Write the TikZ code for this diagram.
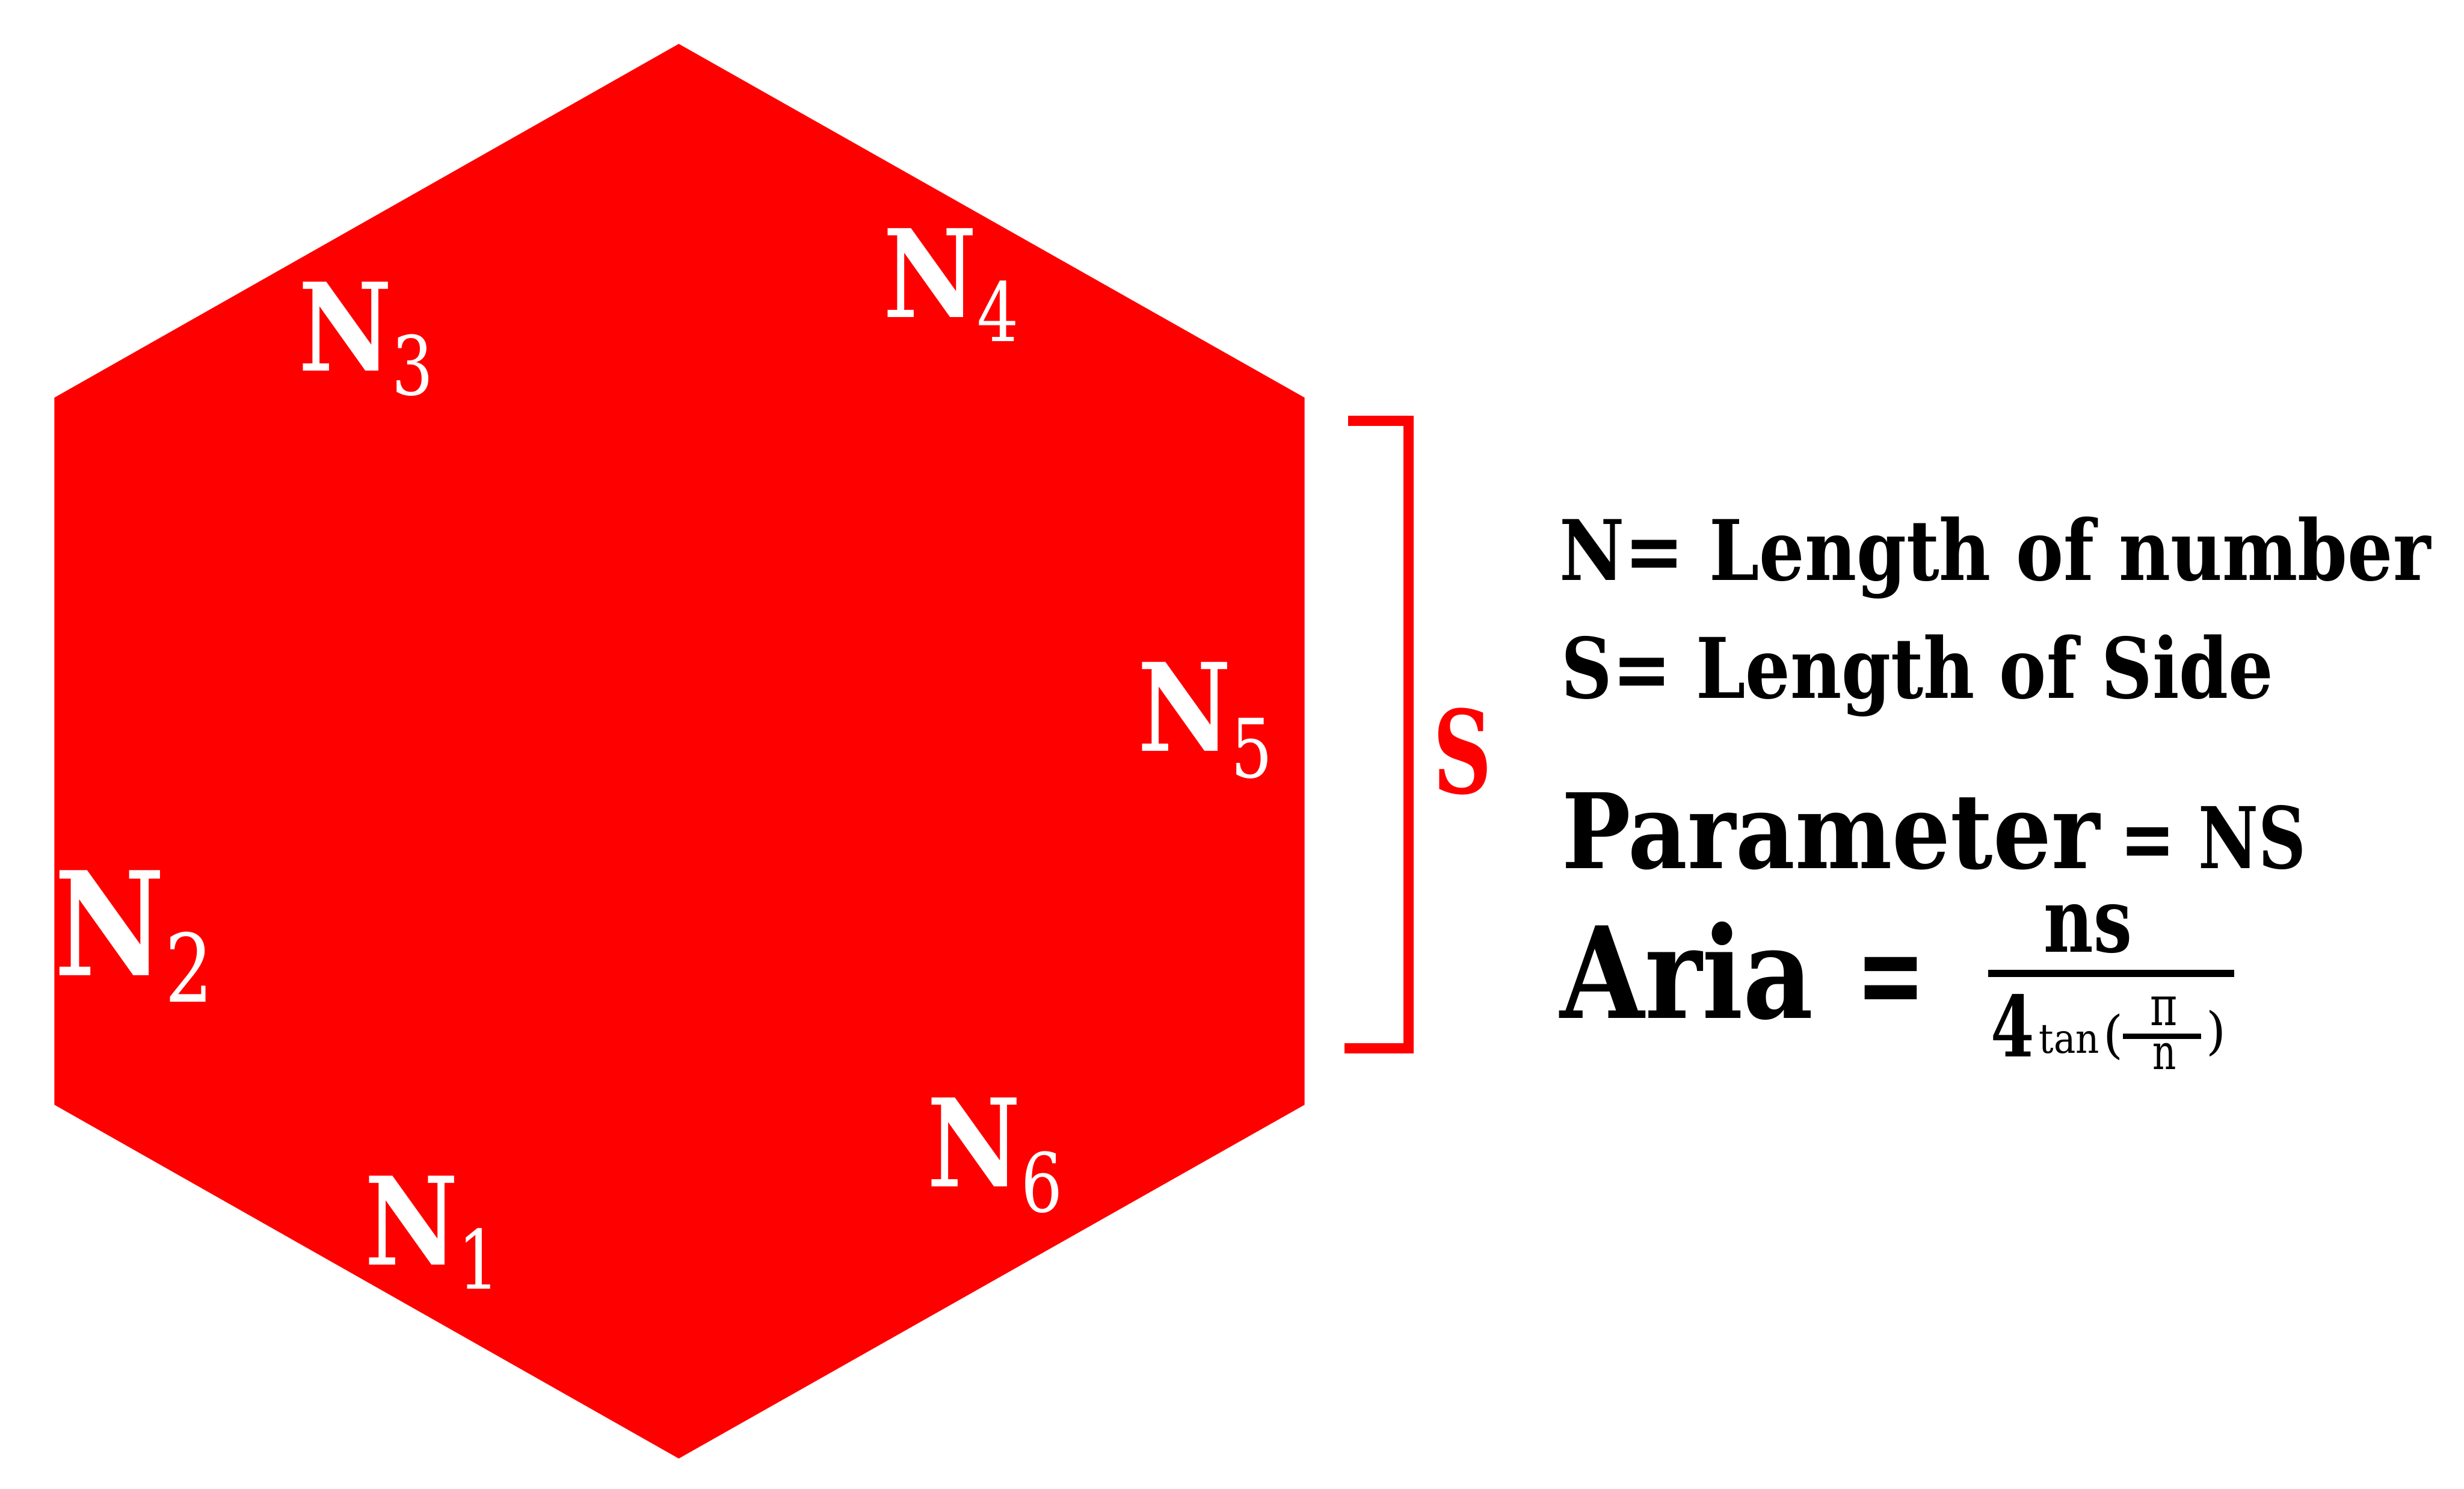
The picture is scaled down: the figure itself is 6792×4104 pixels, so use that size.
\documentclass[tikz,border=0pt]{standalone}
\usepackage{fontspec}
\setmainfont{DejaVu Serif}
\usepackage{graphicx}
\definecolor{hexred}{RGB}{255,0,0}
\newsavebox\fitbox
\newcommand{\fitw}[2]{\sbox\fitbox{#2}\pgfmathsetmacro\fitfac{(#1)/(\the\wd\fitbox)}\scalebox{\fitfac}[1]{\usebox\fitbox}}
\newcommand{\hsub}[2][0.66cm]{\raisebox{-#1}{\fontsize{64}{64}\selectfont\mdseries\scalebox{0.8}[1]{#2}}}
\newcommand{\hN}{\scalebox{0.84}[1]{N}}
\tikzset{
  txt/.style={inner sep=0pt, outer sep=0pt, anchor=base west, text=black},
  hexlab/.style={inner sep=0pt, outer sep=0pt, anchor=base west, text=white, font=\fontsize{95.6}{100}\selectfont\bfseries},
  bracketline/.style={draw=hexred, line width=0.28cm, line join=miter},
}
\begin{document}
\begin{tikzpicture}[x=0.01cm, y=-0.01cm]
\useasboundingbox (0,0) rectangle (6792,4104);
% hexagon
\coordinate (ht) at (1871,121);
\coordinate (hur) at (3596,1096);
\coordinate (hlr) at (3596,3045);
\coordinate (hb) at (1871,4020);
\coordinate (hll) at (150,3045);
\coordinate (hul) at (150,1096);
\fill[hexred] (ht) -- (hur) -- (hlr) -- (hb) -- (hll) -- (hul) -- cycle;
% labels
\node[hexlab] (n3) at (823,1022) {\hN\hsub{3}};
\node[hexlab] (n4) at (2435,875) {\hN\hsub{4}};
\node[hexlab] (n5) at (3136,2071) {\hN\hsub[0.72cm]{5}};
\node[hexlab, font=\fontsize{113}{118}\selectfont\bfseries] (n2) at (150,2688) {\hN\raisebox{-0.74cm}{\fontsize{74}{74}\selectfont\mdseries\scalebox{0.8}[1]{2}}};
\node[hexlab] (n1) at (1005,3487) {\hN\hsub{1}};
\node[hexlab] (n6) at (2556,3271) {\hN\hsub[0.69cm]{6}};
% bracket
\coordinate (bt1) at (3716,1160);
\coordinate (bt2) at (3882,1160);
\coordinate (bb2) at (3882,2889);
\coordinate (bb1) at (3706,2889);
\draw[bracketline] (bt1) -- (bt2) -- (bb2) -- (bb1);
\node[txt, text=hexred, font=\fontsize{90}{95}\selectfont\bfseries] (slab) at (3950,2186) {\fitw{1.62cm}{S}};
% legend
\node[txt, font=\fontsize{65.5}{70}\selectfont\bfseries] (l1) at (4299,1600) {\fitw{24cm}{N= Length of number}};
\node[txt, font=\fontsize{65.5}{70}\selectfont\bfseries] (l2) at (4304,1925) {\fitw{19.62cm}{S= Length of Side}};
\node[txt, font=\fontsize{81.6}{86}\selectfont\bfseries] (param) at (4305,2393) {\fitw{14.82cm}{Parameter}};
\node[txt, font=\fontsize{66.7}{70}\selectfont\bfseries] (pns) at (5845,2393) {\fitw{5.12cm}{= NS}};
\node[txt, font=\fontsize{99.5}{104}\selectfont\bfseries] (aria) at (4301,2806) {\fitw{6.98cm}{Aria}};
\node[txt, font=\fontsize{99.5}{104}\selectfont\bfseries] (aeq) at (5117,2806) {\fitw{1.92cm}{=}};
\node[txt, font=\fontsize{70}{74}\selectfont\bfseries] (num) at (5634,2624) {\fitw{2.43cm}{ns}};
\coordinate (fb1) at (5481,2683);
\coordinate (fb2) at (6159,2683);
\draw[line width=0.19cm] (fb1) -- (fb2);
\node[txt, font=\fontsize{66}{70}\selectfont\bfseries] (four) at (5487,2913) {\fitw{1.2cm}{4}};
\node[txt, font=\fontsize{32}{34}\selectfont] (tan) at (5621,2903) {\fitw{1.66cm}{tan}};
\node[inner sep=0pt, font=\fontsize{40}{42}\selectfont] (lp) at (5825,2858) {(};
\node[txt, anchor=base, font=\fontsize{36}{38}\selectfont] (pi) at (5965,2826) {\scalebox{0.9}[1.2]{π}};
\coordinate (sb1) at (5851,2857);
\coordinate (sb2) at (6068,2857);
\draw[line width=0.15cm] (sb1) -- (sb2);
\node[txt, anchor=base, font=\fontsize{32}{34}\selectfont] (den) at (5966,2948) {\scalebox{0.9}[1.2]{n}};
\node[inner sep=0pt, font=\fontsize{40}{42}\selectfont] (rp) at (6109,2848) {)};
\end{tikzpicture}
\end{document}
